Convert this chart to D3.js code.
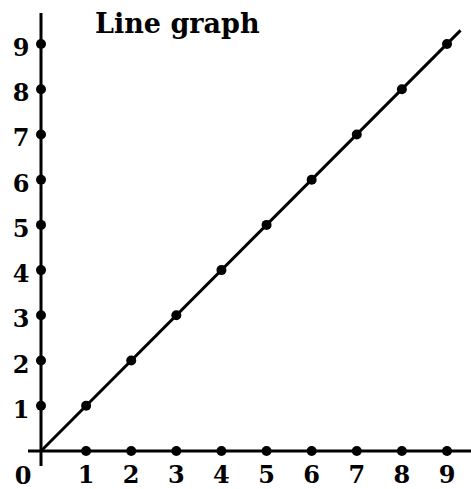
<!DOCTYPE html>
<html>
<head>
<meta charset="utf-8">
<script src="https://cdnjs.cloudflare.com/ajax/libs/d3/7.8.5/d3.min.js"></script>
<style>
body { margin: 0; background: #fff; }
text { font-family: "DejaVu Serif", serif; font-weight: bold; fill: #000; }
</style>
</head>
<body>
<script>
var title = 'Line graph';
var xValues = [1, 2, 3, 4, 5, 6, 7, 8, 9];
var yValues = [1, 2, 3, 4, 5, 6, 7, 8, 9];
var tickLabels = ['1', '2', '3', '4', '5', '6', '7', '8', '9'];
var lineEnds = [[0, 0], [9.3, 9.3]];

var width = 471, height = 489;
var svg = d3.select('body').append('svg')
    .attr('width', width)
    .attr('height', height);

var x = d3.scaleLinear().domain([0, 9]).range([41, 447]);
var y = d3.scaleLinear().domain([0, 9]).range([451, 44]);

// axes lines
svg.append('line')
    .attr('x1', x(0)).attr('x2', x(0))
    .attr('y1', 13).attr('y2', 466)
    .attr('stroke', '#000').attr('stroke-width', 3);
svg.append('line')
    .attr('x1', 28).attr('x2', width)
    .attr('y1', y(0)).attr('y2', y(0))
    .attr('stroke', '#000').attr('stroke-width', 3);

// the line
svg.append('path')
    .datum(lineEnds)
    .attr('d', d3.line().x(d => x(d[0])).y(d => y(d[1])))
    .attr('stroke', '#000').attr('stroke-width', 3).attr('fill', 'none');

// dots on axes
svg.selectAll('.xdot').data(xValues).enter()
    .append('circle')
    .attr('cx', d => x(d)).attr('cy', y(0)).attr('r', 5);
svg.selectAll('.ydot').data(yValues).enter()
    .append('circle')
    .attr('cx', x(0)).attr('cy', d => y(d)).attr('r', 5);

// dots on the line
svg.selectAll('.pdot').data(xValues).enter()
    .append('circle')
    .attr('cx', d => x(d)).attr('cy', (d, i) => y(yValues[i])).attr('r', 5);

// tick labels
svg.selectAll('.xl').data(tickLabels).enter()
    .append('text')
    .attr('x', (d, i) => x(xValues[i]))
    .attr('y', 483)
    .attr('text-anchor', 'middle')
    .attr('font-size', 24)
    .text(d => d);
svg.selectAll('.yl').data(tickLabels).enter()
    .append('text')
    .attr('x', 21)
    .attr('y', (d, i) => y(yValues[i]) + 12)
    .attr('text-anchor', 'middle')
    .attr('font-size', 24)
    .text(d => d);
svg.append('text')
    .attr('x', 23).attr('y', 484)
    .attr('text-anchor', 'middle')
    .attr('font-size', 24)
    .text('0');

// title
svg.append('text')
    .attr('x', 95).attr('y', 33)
    .attr('font-size', 27)
    .text(title);
</script>
</body>
</html>
